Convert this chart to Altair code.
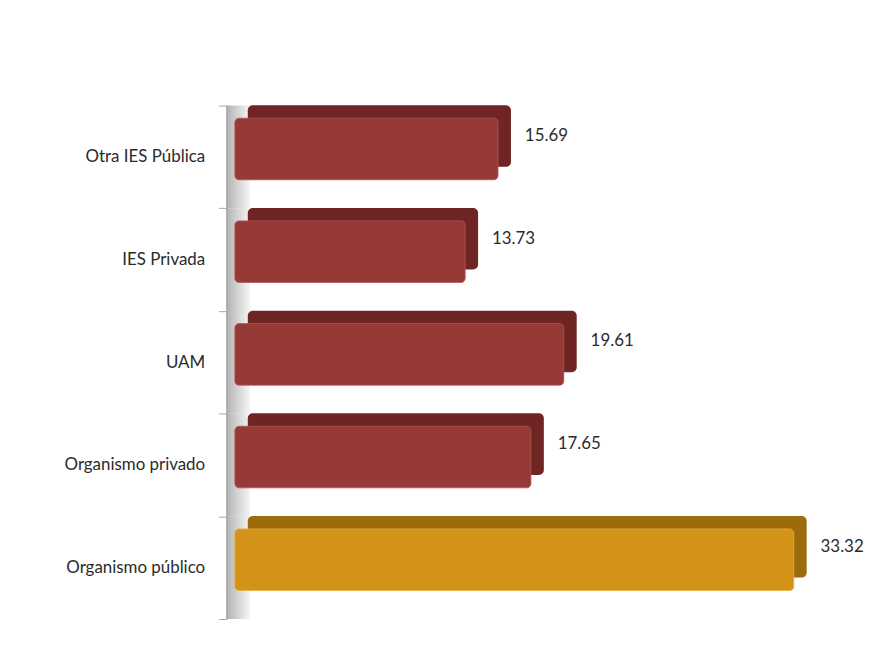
import altair as alt
import pandas as pd

categories = ["Otra IES Pública", "IES Privada", "UAM", "Organismo privado", "Organismo público"]
values = [15.69, 13.73, 19.61, 17.65, 33.32]
groups = ["otro", "otro", "otro", "otro", "publico"]

df = pd.DataFrame({"cat": categories, "val": values, "grp": groups,
                   "lab": [f"{v:.2f}" for v in values]})

y_enc = alt.Y("cat:N", sort=categories, title=None,
              scale=alt.Scale(paddingInner=0, paddingOuter=0),
              axis=alt.Axis(domainColor="#A6A6A6", domainWidth=1.5, tickColor="#A6A6A6",
                            tickSize=8, tickBand="extent", labelFont="Lato", labelFontSize=17,
                            labelColor="#2b2b2b", labelPadding=14, ticks=True))
x_scale = alt.Scale(domain=[-0.5, 35.5], nice=False, zero=False)
x_axis = None

is_pub = alt.datum.grp == "publico"

base = alt.Chart(df)

wall = base.mark_rect(
    color=alt.Gradient(gradient="linear", x1=0, x2=1, y1=0, y2=0,
                       stops=[alt.GradientStop(color="#A9A9A9", offset=0),
                              alt.GradientStop(color="#D0D0D0", offset=0.5),
                              alt.GradientStop(color="#F4F4F4", offset=1)]),
    opacity=0.9
).encode(x=alt.X(datum=-0.5, scale=x_scale, axis=x_axis), x2=alt.X2(datum=0.9), y=y_enc)

back = base.mark_bar(size=62, xOffset=13, x2Offset=13, yOffset=-21, cornerRadius=5).encode(
    x=alt.X("val:Q", scale=x_scale, axis=x_axis),
    x2=alt.X2(datum=0),
    y=y_enc,
    color=alt.condition(is_pub, alt.value("#9C6C0C"), alt.value("#6F2523")),
)

front = base.mark_bar(size=62, yOffset=-8, cornerRadius=4, strokeWidth=0.8).encode(
    x=alt.X("val:Q", scale=x_scale, axis=x_axis),
    x2=alt.X2(datum=0),
    y=y_enc,
    color=alt.condition(is_pub, alt.value("#D39218"), alt.value("#963A38")),
    stroke=alt.condition(is_pub, alt.value("#E8AE3A"), alt.value("#B05553")),
)

labels = base.mark_text(align="left", baseline="middle", dx=27, dy=-21,
                        font="Lato", fontSize=17, color="#2b2b2b").encode(
    x=alt.X("val:Q", scale=x_scale, axis=x_axis),
    y=y_enc,
    text="lab:N",
)

chart = alt.layer(wall, back, front, labels).properties(
    width=608, height=517,
    autosize=alt.AutoSizeParams(type="none"),
    padding={"left": 220, "top": 96, "right": 46, "bottom": 40},
    background="white",
).configure_view(stroke=None)

chart.save("out.html", embed_options={"renderer": "svg", "actions": False})
